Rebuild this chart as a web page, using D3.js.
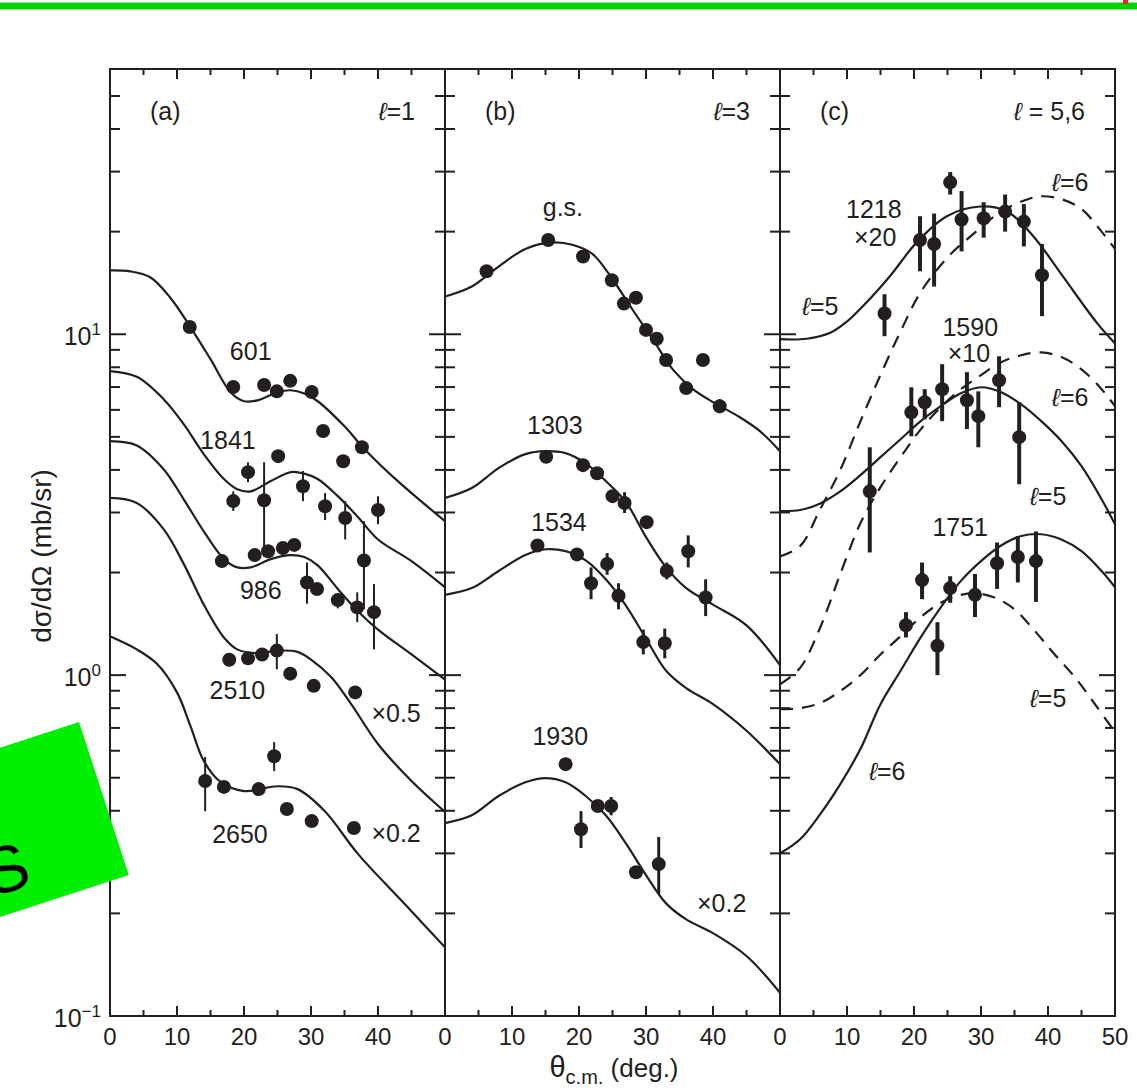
<!DOCTYPE html>
<html>
<head>
<meta charset="utf-8">
<script src="https://cdn.jsdelivr.net/npm/d3@7"></script>
<style>
  body { margin: 0; background: #fff; }
  svg text { font-family: "Liberation Sans", Arial, Helvetica, sans-serif; fill: #231f20; }
</style>
</head>
<body>
<svg id="chart" width="1137" height="1091"></svg>
<script>
// ---- data (theta in deg., dsigma/dOmega in mb/sr) ----
var xDomain = [0, 50];
var yDomain = [0.1, 60];
var xTickLabels = ["0", "10", "20", "30", "40"];

// panel (a), l=1 : DWBA curves
var c601  = [[0,15.4],[3,15.3],[6,14.7],[9,12.8],[12,10.5],[15,8.45],[18,6.76],[20,6.36],[22,6.4],[25,6.76],[27,6.85],[29,6.7],[31,6.36],[35,5.37],[38,4.6],[43,3.7],[50,2.83]];
var c1841 = [[0,7.8],[4,7.5],[8,6.45],[11,5.45],[14,4.45],[17,3.76],[19,3.51],[21,3.46],[24,3.71],[27,3.94],[29,3.9],[31,3.76],[34,3.35],[37,2.91],[40,2.5],[45,2.16],[50,1.81]];
var c986  = [[0,4.86],[4,4.72],[8,4.02],[11,3.28],[14,2.64],[17,2.19],[19,2.07],[21,2.07],[24,2.19],[27,2.25],[29,2.22],[31,2.1],[34,1.79],[37,1.54],[40,1.36],[45,1.15],[50,0.97]];
var c2510 = [[0,3.31],[4,3.2],[8,2.68],[11,2.12],[14,1.61],[17,1.29],[19,1.19],[22,1.16],[25,1.18],[28,1.17],[30,1.11],[33,0.987],[36,0.822],[40,0.628],[45,0.489],[50,0.397]];
var c2650 = [[0,1.3],[4,1.19],[7,1.08],[10,0.89],[12,0.71],[14,0.56],[16.5,0.486],[20,0.457],[25,0.472],[28,0.463],[32,0.40],[37,0.299],[44,0.213],[50,0.159]];
// panel (a) data: [theta, value, errLow, errHigh]
var pts601  = [[11.9,10.5],[18.4,7.0],[23.0,7.1],[24.9,6.8],[26.9,7.3],[30.1,6.77],[31.8,5.2],[34.8,4.24],[37.6,4.66,4.51,4.82]];
var pts1841 = [[18.4,3.24,3.03,3.46],[20.6,3.94,3.68,4.21],[23.0,3.26,2.23,4.21],[25.1,4.39],[28.8,3.58,3.24,3.97],[32.1,3.13,2.85,3.42],[35.1,2.89,2.5,3.24],[37.9,2.17,1.56,2.83],[40.0,3.05,2.77,3.35]];
var pts986  = [[16.7,2.16],[21.6,2.25],[23.6,2.31],[25.8,2.36],[27.5,2.41],[29.4,1.87,1.62,2.14],[30.9,1.79],[34.0,1.66,1.57,1.74],[36.9,1.58,1.43,1.75],[39.4,1.53,1.19,1.85]];
var pts2510 = [[17.8,1.11],[20.6,1.12],[22.7,1.15],[24.9,1.18,1.04,1.32],[26.9,1.01],[30.4,0.93],[36.6,0.89]];
var pts2650 = [[14.2,0.489,0.399,0.575],[17.0,0.47],[22.2,0.463],[24.5,0.578,0.523,0.636],[26.4,0.405],[30.1,0.373],[36.4,0.356]];

// panel (b), l=3
var cGS   = [[0,12.9],[4,13.8],[8,15.8],[12,17.8],[16,18.6],[19,18.3],[22,17.2],[25,14.5],[28,11.8],[31,9.67],[34,7.89],[37,6.9],[40,6.32],[44,5.71],[47,5.2],[50,4.54]];
var c1303 = [[0,3.31],[4,3.54],[8,4.05],[12,4.45],[15,4.54],[18,4.48],[21,4.18],[24,3.71],[27,3.22],[30,2.54],[33,2.07],[36,1.80],[40,1.61],[45,1.40],[50,1.07]];
var c1534 = [[0,1.72],[4,1.80],[8,2.02],[12,2.25],[15,2.34],[18,2.31],[21,2.17],[24,1.91],[27,1.60],[30,1.28],[33,1.03],[36,0.916],[40,0.822],[45,0.687],[50,0.548]];
var c1930 = [[0,0.368],[4,0.388],[8,0.442],[12,0.485],[15,0.499],[18,0.485],[21,0.442],[24,0.388],[27,0.321],[30,0.259],[33,0.214],[36,0.192],[40,0.175],[45,0.15],[50,0.117]];
var ptsGS   = [[6.2,15.3],[15.4,18.9],[20.6,16.9],[24.9,14.4],[26.7,12.3],[28.5,12.8],[30.0,10.3],[31.6,9.7],[33.0,8.4],[36.0,6.95],[38.5,8.4],[41.0,6.15,5.87,6.45]];
var pts1303 = [[15.1,4.37],[20.6,4.13],[22.7,3.91,3.76,4.07],[25.0,3.35],[26.8,3.2,2.99,3.44],[30.1,2.81],[33.1,2.02,1.91,2.14],[36.3,2.31,2.07,2.57],[38.9,1.69,1.49,1.91]];
var pts1534 = [[13.8,2.40],[19.7,2.26],[21.8,1.86,1.67,2.07],[24.2,2.12,1.97,2.28],[25.9,1.71,1.56,1.86],[29.6,1.25,1.15,1.36],[32.8,1.24,1.12,1.37]];
var pts1930 = [[18.0,0.548],[20.3,0.353,0.311,0.399],[22.8,0.413],[24.8,0.413,0.388,0.439],[28.5,0.264],[31.9,0.279,0.228,0.335]];

// panel (c), l=5,6
var c1218l5 = [[0,9.67],[4,9.7],[7.5,10.1],[10,10.9],[12.4,12.1],[16.4,14.8],[20.4,18.6],[24.9,22.2],[29.9,23.7],[33.9,22.9],[37.8,19.4],[42.2,14.8],[47.3,10.8],[50,9.4]];
var c1218l6 = [[0,2.23],[3,2.39],[6,3.07],[9,4.0],[12,5.55],[15,7.6],[18,10.2],[21,13.3],[25,16.8],[29,19.8],[33,22.9],[37,24.9],[39,25.4],[42,24.9],[45,23.3],[48,20.0],[50,17.8]];
var c1590l5 = [[0,3.03],[3,3.05],[6,3.19],[9,3.46],[12,3.86],[15,4.36],[18,4.92],[21,5.56],[24,6.15],[27,6.71],[30,6.99],[33,6.76],[36,6.23],[39,5.56],[42,4.86],[45,4.1],[48,3.28],[50,2.77]];
var c1590l6 = [[0,0.94],[3,1.05],[6,1.38],[9,1.98],[12,2.79],[15,3.56],[18,4.36],[21,5.26],[24,6.11],[27,6.9],[30,7.59],[33,8.28],[36,8.68],[39,8.85],[42,8.57],[45,7.89],[48,6.9],[50,6.15]];
var c1751l6 = [[0,0.30],[3,0.33],[6,0.391],[9,0.479],[12,0.607],[15,0.822],[18,1.03],[21,1.29],[24,1.58],[27,1.89],[30,2.16],[33,2.40],[36,2.56],[39,2.59],[42,2.5],[45,2.31],[48,2.02],[50,1.81]];
var c1751l5 = [[0,0.795],[3,0.80],[6,0.828],[9,0.898],[12,1.0],[15,1.15],[18,1.30],[21,1.48],[24,1.63],[27,1.72],[29,1.74],[32,1.69],[35,1.56],[38,1.35],[41,1.15],[44,0.987],[47,0.822],[50,0.68]];
var pts1218 = [[15.6,11.5,9.87,13.1],[20.9,18.9,15.3,22.2],[23.0,18.4,13.8,22.6],[25.4,27.9,25.7,29.9],[27.1,21.7,17.5,26.3],[30.4,21.9,19.2,24.4],[33.6,22.9,20.0,25.7],[36.4,21.4,18.1,24.1],[39.1,14.9,11.3,18.4]];
var pts1590 = [[13.4,3.46,2.29,4.66],[19.6,5.9,5.02,6.99],[21.6,6.32,5.63,6.9],[24.2,6.9,5.56,8.17],[27.9,6.4,5.27,7.74],[29.6,5.75,4.66,6.8],[32.7,7.33,6.11,8.62],[35.7,4.99,3.63,6.32]];
var pts1751 = [[18.8,1.40,1.29,1.53],[21.2,1.90,1.67,2.14],[23.5,1.22,1.0,1.43],[25.4,1.8,1.63,1.95],[29.1,1.72,1.48,1.98],[32.4,2.13,1.79,2.45],[35.5,2.22,1.87,2.56],[38.2,2.16,1.64,2.64]];

// curve / scale labels: [text, theta, value]
var labelsA = [["601",21.0,8.39],["1841",17.6,4.6],["986",22.5,1.67],["2510",19.0,0.85],["\u00d70.5",42.7,0.728],["2650",19.4,0.321],["\u00d70.2",42.7,0.324]];
var labelsB = [["g.s.",17.6,22.2],["1303",16.4,5.09],["1534",17.0,2.64],["1930",17.2,0.623],["\u00d70.2",41.3,0.202]];
var labelsC = [["1218",14.0,22.0],["\u00d720",14.2,18.1],["\u2113=5",6.0,11.4],["\u2113=6",43.3,26.4],["1590",28.4,9.87],["\u00d710",28.2,8.28],
               ["\u2113=6",43.3,6.15],["\u2113=5",40.0,3.15],["1751",26.9,2.56],["\u2113=5",40.0,0.806],["\u2113=6",16.0,0.492]];

// ---- layout ----
var ink = "#231f20";
var svg = d3.select("#chart");
var plotTop = 69, plotBottom = 1016, panelW = 335;
var panelLefts = [110, 445, 780];

var y = d3.scaleLog().domain(yDomain).range([plotBottom, plotTop]);

var panels = [
  { tag: "(a)", ell: "\u2113=1", err: 2,
    solid: [c601, c1841, c986, c2510, c2650], dashed: [],
    points: [pts601, pts1841, pts986, pts2510, pts2650], labels: labelsA },
  { tag: "(b)", ell: "\u2113=3", err: 3,
    solid: [cGS, c1303, c1534, c1930], dashed: [],
    points: [ptsGS, pts1303, pts1534, pts1930], labels: labelsB },
  { tag: "(c)", ell: "\u2113 = 5,6", err: 4,
    solid: [c1218l5, c1590l5, c1751l6], dashed: [c1218l6, c1590l6, c1751l5],
    points: [pts1218, pts1590, pts1751], labels: labelsC }
];

// writes a label, setting a leading script l in italics
function putLabel(sel, s) {
  if (s.charAt(0) === "\u2113") {
    sel.append("tspan").attr("font-style", "italic").text("\u2113");
    sel.append("tspan").text(s.slice(1));
  } else {
    sel.text(s);
  }
  return sel;
}

// y tick values (1..9 x 10^k)
var yTicks = [];
[-1, 0, 1].forEach(function(k) {
  for (var m = 1; m <= 9; m++) {
    var v = m * Math.pow(10, k);
    if (v >= 0.1 && v < 59) yTicks.push({ v: v, major: m === 1 });
  }
});

panels.forEach(function(p, i) {
  var left = panelLefts[i], right = left + panelW;
  var x = d3.scaleLinear().domain(xDomain).range([left, right]);
  var g = svg.append("g").attr("class", "panel");

  g.append("clipPath").attr("id", "clip" + i)
    .append("rect").attr("x", left).attr("y", plotTop)
    .attr("width", panelW).attr("height", plotBottom - plotTop);

  // y ticks on both vertical edges, pointing inward
  yTicks.forEach(function(t) {
    var len = t.major ? 16 : 10;
    g.append("line").attr("x1", left).attr("x2", left + len)
      .attr("y1", y(t.v)).attr("y2", y(t.v))
      .attr("stroke", ink).attr("stroke-width", 2);
    g.append("line").attr("x1", right).attr("x2", right - len)
      .attr("y1", y(t.v)).attr("y2", y(t.v))
      .attr("stroke", ink).attr("stroke-width", 2);
  });

  // x ticks top and bottom
  d3.range(5, 50, 5).forEach(function(t) {
    var len = (t % 10 === 0) ? 10 : 6;
    g.append("line").attr("x1", x(t)).attr("x2", x(t))
      .attr("y1", plotBottom).attr("y2", plotBottom - len)
      .attr("stroke", ink).attr("stroke-width", 2);
    g.append("line").attr("x1", x(t)).attr("x2", x(t))
      .attr("y1", plotTop).attr("y2", plotTop + len)
      .attr("stroke", ink).attr("stroke-width", 2);
  });

  // x tick labels
  xTickLabels.forEach(function(s, j) {
    g.append("text").attr("x", x(j * 10)).attr("y", 1045)
      .attr("text-anchor", "middle").attr("font-size", 24).text(s);
  });
  if (i === 2) {
    g.append("text").attr("x", x(50)).attr("y", 1045)
      .attr("text-anchor", "middle").attr("font-size", 24).text("50");
  }

  // frame
  g.append("rect").attr("x", left).attr("y", plotTop)
    .attr("width", panelW).attr("height", plotBottom - plotTop)
    .attr("fill", "none").attr("stroke", ink).attr("stroke-width", 2);

  // curves
  var line = d3.line()
    .x(function(d) { return x(d[0]); })
    .y(function(d) { return y(d[1]); })
    .curve(d3.curveCatmullRom.alpha(0.5));
  var cg = g.append("g").attr("clip-path", "url(#clip" + i + ")");
  p.solid.forEach(function(c) {
    cg.append("path").attr("d", line(c)).attr("fill", "none")
      .attr("stroke", ink).attr("stroke-width", 2.2);
  });
  p.dashed.forEach(function(c) {
    cg.append("path").attr("d", line(c)).attr("fill", "none")
      .attr("stroke", ink).attr("stroke-width", 2.2)
      .attr("stroke-dasharray", "13,9");
  });

  // data points with error bars
  p.points.forEach(function(set) {
    set.forEach(function(d) {
      if (d.length > 2) {
        cg.append("line").attr("x1", x(d[0])).attr("x2", x(d[0]))
          .attr("y1", y(d[2])).attr("y2", y(d[3]))
          .attr("stroke", ink).attr("stroke-width", p.err);
      }
    });
    cg.selectAll(null).data(set).enter().append("circle")
      .attr("cx", function(d) { return x(d[0]); })
      .attr("cy", function(d) { return y(d[1]); })
      .attr("r", 7).attr("fill", ink);
  });

  // labels
  p.labels.forEach(function(l) {
    putLabel(g.append("text").attr("x", x(l[1])).attr("y", y(l[2]))
      .attr("text-anchor", "middle").attr("font-size", 25), l[0]);
  });

  // panel tag and l value
  g.append("text").attr("x", left + 40).attr("y", plotTop + 51)
    .attr("font-size", 25).text(p.tag);
  putLabel(g.append("text").attr("x", right - 30).attr("y", plotTop + 51)
    .attr("text-anchor", "end").attr("font-size", 25), p.ell);
});

// y tick labels 10^n
[[10, "1"], [1, "0"], [0.1, "\u22121"]].forEach(function(t) {
  var tx = svg.append("text").attr("x", 101).attr("y", y(t[0]) + 11)
    .attr("text-anchor", "end").attr("font-size", 25);
  tx.append("tspan").text("10");
  tx.append("tspan").attr("dy", -10).attr("font-size", 17).text(t[1]);
});

// axis titles
svg.append("text")
  .attr("transform", "translate(51,556) rotate(-90)")
  .attr("text-anchor", "middle").attr("font-size", 28)
  .text("d\u03c3/d\u03a9 (mb/sr)");

var xt = svg.append("text").attr("x", 614).attr("y", 1077)
  .attr("text-anchor", "middle").attr("font-size", 26);
xt.append("tspan").attr("font-size", 29).text("\u03b8");
xt.append("tspan").attr("dy", 7).attr("font-size", 20).text("c.m.");
xt.append("tspan").attr("dy", -7).text(" (deg.)");

// overlays present in the picture
svg.append("rect").attr("x", 0).attr("y", 2).attr("width", 1137).attr("height", 8).attr("fill", "#8fe88f");
svg.append("rect").attr("x", 0).attr("y", 3).attr("width", 1137).attr("height", 6).attr("fill", "#00d400");
svg.append("rect").attr("x", 1123).attr("y", 0).attr("width", 5).attr("height", 4).attr("fill", "#e8261c");

var stamp = svg.append("g").attr("transform", "translate(79,722) rotate(-18)");
stamp.append("rect").attr("x", -220).attr("y", 0).attr("width", 220).attr("height", 161).attr("fill", "#00ee00");
stamp.append("text").attr("x", -137).attr("y", 140).attr("font-size", 66)
  .attr("font-family", "DejaVu Sans, sans-serif").style("fill", "#000").text("S");
</script>
</body>
</html>
